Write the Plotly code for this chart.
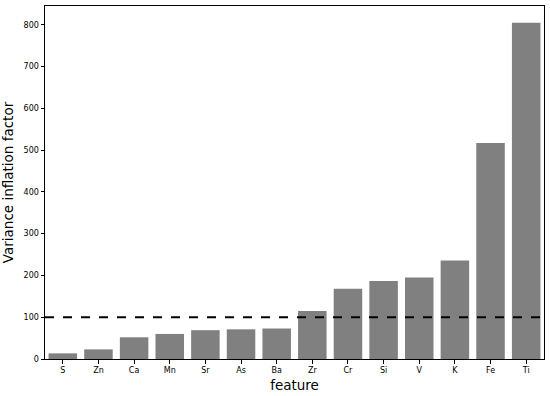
import plotly.graph_objects as go

features = ["S", "Zn", "Ca", "Mn", "Sr", "As", "Ba", "Zr", "Cr", "Si", "V", "K", "Fe", "Ti"]
vif = [13.5, 23, 52, 60, 69, 71, 73, 115, 168, 187, 195, 236, 517, 805]
threshold = 100
y_ticks = [0, 100, 200, 300, 400, 500, 600, 700, 800]

fig = go.Figure()
fig.add_trace(go.Bar(x=features, y=vif, marker=dict(color="#808080", line=dict(width=0)), width=0.8))
fig.add_shape(type="line", xref="paper", x0=0, x1=1, yref="y", y0=threshold, y1=threshold,
              line=dict(color="black", width=2, dash="dash"))

fig.update_layout(
    width=550, height=396,
    margin=dict(l=45, r=5, t=5, b=36),
    paper_bgcolor="white", plot_bgcolor="white",
    font=dict(family="DejaVu Sans", color="black"),
    showlegend=False,
    bargap=0.2,
)
fig.update_xaxes(
    range=[-0.5, 13.5], showline=True, linecolor="black", linewidth=1, mirror=True,
    ticks="outside", ticklen=3.5, tickwidth=0.8, tickcolor="black", tickfont=dict(size=8),
    title=dict(text="feature", font=dict(size=13.5), standoff=6), showgrid=False,
)
fig.update_yaxes(
    range=[0, 845], tickvals=y_ticks, showline=True, linecolor="black", linewidth=1, mirror=True,
    ticks="outside", ticklen=3.5, tickwidth=0.8, tickcolor="black", tickfont=dict(size=8),
    title=dict(text="Variance inflation factor", font=dict(size=13.5), standoff=7), showgrid=False, zeroline=False,
)
fig.write_html("out.html", config={"displayModeBar": False},
               post_script="document.body.style.margin='0';")
